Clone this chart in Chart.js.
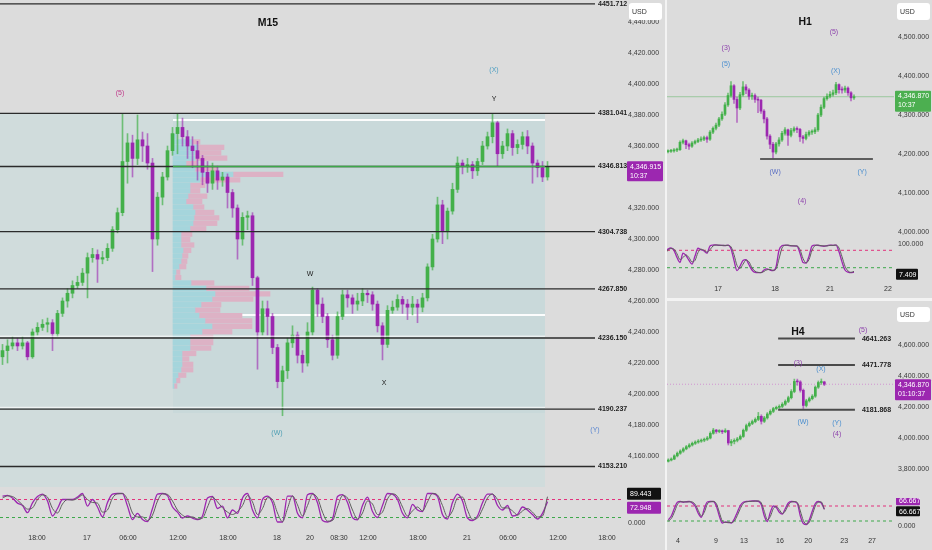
<!DOCTYPE html>
<html lang="en">
<head>
<meta charset="UTF-8">
<title>XAUUSD | M15 / H1 / H4</title>
<script src="https://cdn.jsdelivr.net/npm/chart.js"></script>
<style>
  body { margin: 0; width: 932px; height: 550px; overflow: hidden; background: #f3f3f3; }
  .pane { position: absolute; background: #dcdcdc; }
  canvas { position: absolute; }
</style>
</head>
<body>
<div class="pane" style="left:0;top:0;width:665px;height:550px"></div>
<div class="pane" style="left:667px;top:0;width:265px;height:298px"></div>
<div class="pane" style="left:667px;top:301px;width:265px;height:249px"></div>

<canvas id="m15Price" width="665" height="487" style="left:0;top:0"></canvas>
<canvas id="m15Stoch" width="665" height="63" style="left:0;top:487px"></canvas>
<canvas id="h1Price" width="265" height="240" style="left:667px;top:0"></canvas>
<canvas id="h1Stoch" width="265" height="57" style="left:667px;top:240px"></canvas>
<canvas id="h4Price" width="265" height="197" style="left:667px;top:301px"></canvas>
<canvas id="h4Stoch" width="265" height="52" style="left:667px;top:498px"></canvas>

<script>
// ---------- M15 ----------
const m15Open0 = 4224;
const m15Close = [4228,4231,4233,4231,4233,4224,4240,4243,4245,4246,
  4239,4252,4260,4265,4270,4272,4278,4288,4290,4287,
  4288,4294,4306,4317,4350,4362,4352,4364,4360,4349,
  4300,4327,4340,4357,4368,4372,4366,4360,4357,4352,
  4343,4336,4344,4338,4340,4330,4320,4300,4314,4315,
  4275,4240,4255,4250,4230,4208,4215,4233,4238,4225,
  4220,4240,4267,4258,4250,4235,4225,4250,4264,4262,
  4258,4260,4265,4264,4258,4244,4232,4254,4256,4261,
  4258,4256,4258,4256,4262,4282,4300,4322,4305,4318,
  4332,4349,4347,4348,4344,4350,4360,4366,4375,4355,
  4360,4368,4359,4361,4366,4360,4349,4346,4340,4346.9];
const m15High = [4232,4235,4237,4236,4237,4234,4242,4246,4248,4249,
  4248,4254,4262,4268,4273,4276,4281,4291,4294,4293,
  4292,4297,4308,4320,4381,4368,4367,4380,4369,4368,
  4352,4330,4343,4360,4372,4381,4378,4370,4366,4363,
  4354,4350,4349,4347,4343,4342,4332,4322,4317,4318,
  4317,4276,4260,4260,4252,4232,4218,4236,4244,4240,
  4228,4246,4269,4268,4262,4252,4238,4253,4267,4267,
  4264,4265,4268,4267,4266,4260,4246,4257,4260,4264,
  4263,4261,4263,4261,4265,4284,4303,4327,4325,4320,
  4336,4353,4351,4352,4350,4352,4363,4369,4381,4376,
  4363,4371,4370,4364,4369,4370,4362,4351,4350,4350];
const m15Low = [4219,4220,4229,4228,4229,4222,4223,4238,4241,4240,
  4228,4237,4250,4256,4262,4268,4270,4262,4285,4272,
  4284,4286,4292,4304,4315,4336,4340,4348,4350,4345,
  4279,4296,4322,4338,4354,4355,4360,4352,4346,4338,
  4335,4330,4332,4332,4334,4320,4314,4287,4296,4306,
  4270,4216,4238,4238,4226,4204,4186,4210,4230,4220,
  4214,4218,4238,4250,4246,4230,4222,4223,4248,4256,
  4252,4254,4257,4259,4254,4240,4222,4230,4252,4254,
  4252,4248,4251,4246,4253,4260,4280,4298,4297,4300,
  4316,4330,4342,4343,4339,4341,4348,4358,4362,4347,
  4352,4357,4354,4355,4358,4355,4336,4340,4337,4338];
const m15StochK = [91,94,85,68,60,36,69,90,98,75,
  25,50,80,80,80,88,100,58,80,55,
  22,70,98,100,100,58,13,34,13,6,
  50,98,100,93,55,38,18,25,18,13,
  25,85,90,50,58,19,45,34,85,100,
  45,19,80,91,69,5,5,91,91,34,
  19,96,100,69,10,5,15,90,96,70,
  20,12,60,88,40,20,60,100,98,80,
  34,19,64,45,40,100,100,90,30,15,
  70,98,75,18,10,25,69,98,98,60,
  45,60,25,30,55,45,30,15,34,72.948];
const m15StochD = [85,92,90,78,62,48,52,80,95,88,
  50,35,65,80,78,84,95,80,70,68,
  38,45,85,99,100,80,35,22,22,10,
  28,75,99,97,75,45,28,20,22,15,
  18,55,88,72,52,38,30,40,60,93,
  72,30,50,86,80,35,6,50,92,62,
  25,60,98,85,38,8,10,55,93,85,
  45,15,35,75,65,30,38,82,99,90,
  55,25,42,55,42,72,100,95,60,22,
  42,85,88,45,14,18,48,85,98,80,
  52,52,42,28,42,50,38,22,25,89.443];
const m15TimeLabels = ['18:00','17','06:00','12:00','18:00','18','20','08:30','12:00','18:00','21','06:00','12:00','18:00'];
const m15TimePos = [6.9,16.9,25.1,35.1,45.1,54.9,61.5,67.3,73.1,83.1,92.9,101.1,111.1,120.9];
const m15PriceTicks = [4160,4180,4200,4220,4240,4260,4280,4300,4320,4340,4360,4380,4400,4420,4440];
const m15Levels = [4451.712,4381.041,4346.813,4304.738,4267.850,4236.150,4190.237,4153.210];

// volume profile (anchored 17th 12:00 -> last bar)
const vpPrice = [4376,4372,4368,4364,4360,4356,4352,4348,4344,4340,4336,4332,4328,4324,4320,4316,
  4312,4308,4304,4300,4296,4292,4288,4284,4280,4276,4272,4268,4264,4260,4256,4252,
  4248,4244,4240,4236,4232,4228,4224,4220,4216,4212,4208,4204,4200,4196,4192];
const vpBuy = [3,19,25,22,22,13,22,60,27,17,17,15,13,20,22,21,20,17,8,8,8,10,9,8,6,3,2,18,33,42,39,28,
  22,26,32,39,29,17,17,17,9,9,9,8,5,3,1];
const vpSell = [0,8,26,26,32,11,22,50,40,15,10,19,16,11,19,25,24,16,11,9,13,8,6,6,7,4,6,23,43,55,41,20,
  25,43,47,40,30,23,23,21,14,7,11,12,8,4,3];
const vpValueArea = [4376.8, 4251.0];

// ---------- H1 ----------
const h1Open0 = 4204;
const h1Close = [4206,4207,4208,4210,4211,4230,4234,4224,4220,4228,
  4232,4236,4238,4242,4238,4256,4266,4274,4290,4302,
  4326,4350,4375,4340,4318,4352,4372,4364,4348,4350,
  4340,4338,4310,4290,4246,4225,4205,4226,4236,4253,
  4262,4248,4260,4265,4263,4244,4240,4250,4256,4257,
  4262,4300,4320,4342,4348,4353,4357,4378,4365,4364,
  4369,4357,4344,4346.87];
const h1High = [4210,4211,4212,4214,4215,4234,4238,4236,4228,4232,
  4236,4240,4244,4246,4246,4260,4270,4279,4294,4308,
  4332,4356,4386,4378,4346,4358,4386,4378,4368,4356,
  4354,4346,4340,4314,4294,4250,4230,4230,4242,4258,
  4268,4264,4266,4270,4270,4266,4248,4256,4260,4262,
  4268,4304,4326,4346,4354,4360,4364,4384,4380,4372,
  4374,4372,4360,4352];
const h1Low = [4200,4203,4204,4205,4206,4209,4226,4214,4212,4217,
  4225,4229,4232,4234,4230,4235,4252,4262,4270,4286,
  4298,4322,4346,4330,4281,4314,4348,4355,4340,4340,
  4332,4306,4304,4280,4238,4214,4190,4200,4220,4232,
  4248,4222,4244,4256,4255,4232,4228,4236,4246,4250,
  4252,4258,4296,4316,4338,4344,4348,4352,4356,4356,
  4358,4350,4336,4340];
const h1StochK = [76,84,88,80,55,38,70,62,45,32,
  60,87,82,78,70,95,98,99,97,97,
  96,98,85,45,10,25,45,48,30,12,
  4,3,3,12,16,12,10,22,80,96,
  98,97,95,95,94,70,38,36,60,95,
  98,97,95,94,96,98,97,98,75,40,
  12,5,3,4];
const h1StochD = [70,80,86,84,68,48,55,64,55,40,
  45,72,84,80,74,82,95,98,98,97,
  97,97,92,65,28,18,32,46,40,20,
  8,4,3,7,13,14,11,15,50,88,
  97,98,96,95,95,82,52,37,48,80,
  96,98,96,95,95,97,97,98,88,58,
  25,9,4,7.409];
const h1TimeLabels = ['17','18','21','22'];
const h1TimePos = [17.7,36.7,55,74.3];
const h1PriceTicks = [4000,4100,4200,4300,4400,4500];

// ---------- H4 ----------
const h4Open0 = 3850;
const h4Close = [3858,3864,3885,3902,3916,3930,3944,3955,3966,3974,
  3980,3986,3992,4000,4030,4051,4042,4046,4040,4048,
  3968,3978,3985,3994,4010,4050,4080,4094,4106,4120,
  4140,4108,4130,4155,4172,4190,4198,4204,4218,4236,
  4260,4300,4365,4362,4308,4210,4240,4254,4270,4328,
  4358,4362,4346.87];
const h4High = [3866,3872,3892,3910,3924,3938,3952,3964,3974,3982,
  3990,3994,4000,4010,4040,4062,4056,4054,4052,4060,
  4050,3990,3995,4004,4020,4058,4090,4104,4116,4130,
  4165,4150,4140,4164,4182,4198,4206,4214,4228,4246,
  4270,4312,4380,4380,4370,4316,4250,4264,4280,4336,
  4368,4381,4366];
const h4Low = [3845,3852,3860,3878,3895,3908,3924,3936,3948,3958,
  3966,3972,3976,3984,3994,4024,4030,4034,4028,4034,
  3955,3950,3962,3975,3988,4004,4042,4072,4086,4098,
  4112,4090,4100,4122,4148,4164,4182,4190,4196,4210,
  4228,4252,4292,4340,4296,4190,4200,4232,4246,4262,
  4320,4346,4338];
const h4StochK = [25,40,70,95,98,95,97,98,92,78,
  50,35,70,96,98,98,80,40,12,16,
  14,12,28,55,82,95,98,99,100,100,
  99,85,40,18,55,80,74,55,48,70,
  92,98,97,90,40,10,6,25,60,90,
  98,92,66.667];
const h4StochD = [20,30,55,85,97,97,96,97,96,86,
  62,40,55,88,97,98,90,55,20,14,
  15,14,20,42,70,90,97,98,99,100,
  100,92,58,25,38,70,78,65,50,60,
  84,96,98,94,60,22,8,15,45,80,
  95,96,66.667];
const h4TimeLabels = ['4','9','13','16','20','23','27'];
const h4TimePos = [3.2,15.9,25.2,37.2,46.6,58.6,67.9];
const h4PriceTicks = [3800,4000,4200,4400,4600,4800];
const h4Levels = [4641.263, 4471.778, 4181.868];

// ---------- drawing ----------
const GREEN = '#43b04a';
const PURPLE = '#9c27b0';
const FONT = "'Liberation Sans', Arial, sans-serif";
Chart.defaults.font.family = FONT;

function fmt3(v) {
  return v.toLocaleString('en-US', { minimumFractionDigits: 3, maximumFractionDigits: 3 });
}

function hline(price, x0, x1, color, width, order, dash) {
  return { type: 'line', data: [{ x: x0, y: price }, { x: x1, y: price }], borderColor: color,
    borderWidth: width, borderDash: dash || [], pointRadius: 0, order: order };
}

// texts, zones, level labels and axis boxes, all placed through the chart scales
function overlay(cfg) {
  return {
    id: 'overlay',
    beforeDatasetsDraw(chart) {
      const { ctx, chartArea, scales } = chart;
      (cfg.zones || []).forEach(z => {
        const x0 = scales.x.getPixelForValue(z.x0), x1 = scales.x.getPixelForValue(z.x1);
        const y0 = scales.y.getPixelForValue(z.top);
        const y1 = z.bottom == null ? chartArea.bottom : scales.y.getPixelForValue(z.bottom);
        ctx.fillStyle = z.color;
        ctx.fillRect(x0, y0, x1 - x0, y1 - y0);
      });
    },
    afterDatasetsDraw(chart) {
      const { ctx, scales } = chart;
      ctx.save();
      ctx.textBaseline = 'middle';
      (cfg.texts || []).forEach(t => {
        ctx.font = (t.bold ? 'bold ' : '') + (t.size || 7) + 'px ' + FONT;
        ctx.fillStyle = t.color || '#222';
        ctx.textAlign = 'center';
        ctx.fillText(t.t, scales.x.getPixelForValue(t.x), scales.y.getPixelForValue(t.y));
      });
      ctx.font = 'bold 7px ' + FONT;
      ctx.fillStyle = '#1e1e1e';
      ctx.textAlign = 'left';
      (cfg.levels || []).forEach(l => {
        ctx.fillText(l.toFixed(3), scales.x.getPixelForValue(cfg.levelEnd) + cfg.levelGap, scales.y.getPixelForValue(l));
      });
      ctx.restore();
    },
    afterDraw(chart) {
      const { ctx, chartArea, scales } = chart;
      ctx.save();
      ctx.textBaseline = 'middle';
      ctx.textAlign = 'left';
      ctx.font = '7px ' + FONT;
      (cfg.boxes || []).forEach(b => {
        const x = chartArea.right + b.xOff;
        let top;
        if (b.top != null) top = b.top;
        else top = scales.y.getPixelForValue(b.v) + b.dy - (b.t2 ? 5 : b.h / 2);
        ctx.fillStyle = b.bg;
        ctx.beginPath();
        ctx.roundRect(x, top, b.w, b.h, b.r || 1);
        ctx.fill();
        ctx.fillStyle = b.fg || '#fff';
        if (b.t2) {
          ctx.fillText(b.t, x + 3, top + 5.5);
          ctx.fillText(b.t2, x + 3, top + 14.5);
        } else {
          ctx.fillText(b.t, x + 3, top + b.h / 2 + 0.5);
        }
      });
      ctx.restore();
    }
  };
}

function priceChart(id, o) {
  const open = [o.open0].concat(o.close.slice(0, -1));
  const up = o.close.map((c, i) => c >= open[i]);
  const bodyCol = up.map(u => u ? GREEN : PURPLE);
  const wickCol = up.map(u => u ? 'rgba(67,176,74,0.7)' : 'rgba(156,39,176,0.6)');
  const datasets = [
    { type: 'bar', data: o.close.map((c, i) => ({ x: i, y: [o.low[i], o.high[i]] })),
      backgroundColor: wickCol, barThickness: 1, grouped: false, order: 6 },
    { type: 'bar', data: o.close.map((c, i) => ({ x: i, y: [open[i], c] })),
      backgroundColor: bodyCol, barThickness: o.body, grouped: false, minBarLength: 1, order: 5 }
  ].concat(o.extra || []);

  const scales = Object.assign({
    x: { type: 'linear', min: o.xMin, max: o.xMax, display: false, offset: false, bounds: 'data' },
    y: { type: 'linear', position: 'right', min: o.yMin, max: o.yMax, bounds: 'data',
      grid: { display: false, drawTicks: false }, border: { display: false },
      afterBuildTicks: s => { s.ticks = o.ticks.map(v => ({ value: v })); },
      afterFit: s => { s.width = o.axisW; s.paddingTop = 0; s.paddingBottom = 0; },
      ticks: { autoSkip: false, padding: o.pad, color: '#3a3a3a', font: { size: 7 }, callback: v => fmt3(v) } }
  }, o.scales || {});

  return new Chart(document.getElementById(id), {
    type: 'bar',
    data: { datasets },
    options: {
      responsive: false, animation: false, events: [],
      layout: { padding: 0 },
      plugins: { legend: { display: false }, tooltip: { enabled: false } },
      scales
    },
    plugins: [overlay(o.ov)]
  });
}

function stochChart(id, o) {
  const xy = a => a.map((v, i) => ({ x: i, y: v }));
  return new Chart(document.getElementById(id), {
    type: 'line',
    data: { datasets: [
      { data: xy(o.d), borderColor: '#5e5e5e', borderWidth: 1, pointRadius: 0, cubicInterpolationMode: 'monotone' },
      { data: xy(o.k), borderColor: PURPLE, borderWidth: 1.3, pointRadius: 0, cubicInterpolationMode: 'monotone' },
      hline(80, o.xMin, o.xMax, '#e2317c', 1, 0, [3, 3]),
      hline(20, o.xMin, o.xMax, '#3da84a', 1, 0, [3, 3])
    ] },
    options: {
      responsive: false, animation: false, events: [],
      layout: { padding: 0 },
      plugins: { legend: { display: false }, tooltip: { enabled: false } },
      scales: {
        x: { type: 'linear', min: o.xMin, max: o.xMax, bounds: 'data',
          grid: { display: false, drawTicks: false }, border: { display: false },
          afterBuildTicks: s => { s.ticks = o.tickPos.map(v => ({ value: v })); },
          afterFit: s => { s.height = o.axisH; s.paddingLeft = 0; s.paddingRight = 0; },
          ticks: { autoSkip: false, maxRotation: 0, padding: 5, color: '#333', font: { size: 7 },
            callback: (v, i) => o.tickLabels[i] } },
        y: { type: 'linear', position: 'right', min: o.yMin, max: o.yMax, bounds: 'data',
          grid: { display: false, drawTicks: false }, border: { display: false },
          afterBuildTicks: s => { s.ticks = o.yTicks.map(v => ({ value: v })); },
          afterFit: s => { s.width = o.axisW; s.paddingTop = 0; s.paddingBottom = 0; },
          ticks: { autoSkip: false, padding: o.pad, color: '#3a3a3a', font: { size: 7 }, callback: v => fmt3(v) } }
      }
    },
    plugins: [overlay(o.ov)]
  });
}

// ---------- M15 ----------
const M15X = [-0.5, 123.9];
const vpStart = 34.1, vpEnd = 108.5, m15LevelEnd = 118.5;
const m15Extra = [];
m15Levels.forEach(p => m15Extra.push(hline(p, -1, m15LevelEnd, '#2b2b2b', 1.4, 3)));
m15Extra.push(hline(4237.3, -1, vpEnd, 'rgba(255,255,255,0.9)', 1, 4));
m15Extra.push(hline(4191.4, -1, vpEnd, 'rgba(255,255,255,0.8)', 1, 4));
m15Extra.push(hline(4346.813, vpStart, vpEnd, '#3da84a', 1.4, 2));
vpValueArea.forEach(p => m15Extra.push(hline(p, vpStart, vpEnd, 'rgba(255,255,255,0.95)', 2, 9)));
m15Extra.push({ type: 'bar', indexAxis: 'y', xAxisID: 'xv', yAxisID: 'yv', grouped: false, barThickness: 4.6, order: 8,
  data: vpPrice.map((p, i) => ({ y: p, x: [0, vpBuy[i]] })), backgroundColor: '#a5d5dc' });
m15Extra.push({ type: 'bar', indexAxis: 'y', xAxisID: 'xv', yAxisID: 'yv', grouped: false, barThickness: 4.6, order: 8,
  data: vpPrice.map((p, i) => ({ y: p, x: [vpBuy[i], vpBuy[i] + vpSell[i]] })), backgroundColor: '#ddb2c5' });

priceChart('m15Price', {
  open0: m15Open0, close: m15Close, high: m15High, low: m15Low, body: 3,
  xMin: M15X[0], xMax: M15X[1], yMin: 4140, yMax: 4454.2, ticks: m15PriceTicks, axisW: 43, pad: 6,
  extra: m15Extra,
  scales: {
    xv: { type: 'linear', axis: 'x', min: -173, max: 449, display: false, offset: false, bounds: 'data' },
    yv: { type: 'linear', axis: 'y', min: 4140, max: 4454.2, display: false, bounds: 'data' }
  },
  ov: {
    zones: [
      { x0: -1, x1: vpEnd, top: 4381.041, bottom: null, color: '#d0dcdc' },
      { x0: vpStart, x1: vpEnd, top: 4381.041, bottom: 4187.7, color: '#c9d9da' }
    ],
    levels: m15Levels, levelEnd: m15LevelEnd, levelGap: 3,
    texts: [
      { t: 'M15', x: 53.1, y: 4439.4, bold: true, size: 10.5, color: '#111' },
      { t: '(5)', x: 23.5, y: 4394.2, color: '#c0398a' },
      { t: '(X)', x: 98.3, y: 4409, color: '#4f9fc2' },
      { t: 'Y', x: 98.3, y: 4390.3, color: '#222' },
      { t: 'W', x: 61.5, y: 4277.4, color: '#222' },
      { t: 'X', x: 76.3, y: 4207, color: '#222' },
      { t: '(W)', x: 54.9, y: 4174.8, color: '#4f9fb4' },
      { t: '(Y)', x: 118.5, y: 4176.8, color: '#5b86d0' }
    ],
    boxes: [
      { t: 'USD', top: 3, h: 17, xOff: 7, w: 33, bg: '#ffffff', fg: '#333', r: 3 },
      { t: '4,346.915', t2: '10:37', v: 4346.915, dy: 0, h: 20, xOff: 5, w: 36, bg: PURPLE }
    ]
  }
});

stochChart('m15Stoch', {
  k: m15StochK, d: m15StochD, xMin: M15X[0], xMax: M15X[1], yMin: -18.3, yMax: 121.7,
  tickPos: m15TimePos, tickLabels: m15TimeLabels, yTicks: [0], axisW: 43, axisH: 21, pad: 6,
  ov: { boxes: [
    { t: '89.443', v: 89.443, dy: -3, h: 12, xOff: 5, w: 34, bg: '#111' },
    { t: '72.948', v: 72.948, dy: 6, h: 12, xOff: 5, w: 34, bg: PURPLE }
  ] }
});

// ---------- H1 ----------
const H1X = [0.67, 76.33];
priceChart('h1Price', {
  open0: h1Open0, close: h1Close, high: h1High, low: h1Low, body: 2,
  xMin: H1X[0], xMax: H1X[1], yMin: 3979.5, yMax: 4594.9, ticks: h1PriceTicks, axisW: 38, pad: 4,
  extra: [
    hline(4346.87, H1X[0], H1X[1], 'rgba(76,175,80,0.45)', 1, 7),
    hline(4187, 31.7, 69.3, '#333', 1.5, 3)
  ],
  ov: {
    texts: [
      { t: 'H1', x: 46.7, y: 4538.5, bold: true, size: 10.5, color: '#111' },
      { t: '(3)', x: 20.3, y: 4471.8, color: '#8e44ad' },
      { t: '(5)', x: 20.3, y: 4430.8, color: '#4b8fcf' },
      { t: '(5)', x: 56.3, y: 4512.8, color: '#8e44ad' },
      { t: '(X)', x: 56.9, y: 4412.8, color: '#4b8fcf' },
      { t: '(W)', x: 36.7, y: 4153.8, color: '#5b6fc4' },
      { t: '(Y)', x: 65.7, y: 4153.8, color: '#4b8fcf' },
      { t: '(4)', x: 45.7, y: 4079.5, color: '#8e44ad' }
    ],
    boxes: [
      { t: 'USD', top: 3, h: 17, xOff: 3, w: 33, bg: '#ffffff', fg: '#333', r: 3 },
      { t: '4,346.870', t2: '10:37', v: 4346.87, dy: -1, h: 21, xOff: 1, w: 36, bg: '#4caf50' }
    ]
  }
});

stochChart('h1Stoch', {
  k: h1StochK, d: h1StochD, xMin: H1X[0], xMax: H1X[1], yMin: -22.4, yMax: 115.5,
  tickPos: h1TimePos, tickLabels: h1TimeLabels, yTicks: [100], axisW: 38, axisH: 17, pad: 4,
  ov: { boxes: [ { t: '7.409', v: 7.409, dy: 3, h: 11, xOff: 2, w: 22, bg: '#111' } ] }
});

// ---------- H4 ----------
const H4X = [-0.44, 75.22];
const h4LevelX = [36.6, 62.2];
priceChart('h4Price', {
  open0: h4Open0, close: h4Close, high: h4High, low: h4Low, body: 2,
  xMin: H4X[0], xMax: H4X[1], yMin: 3613, yMax: 4883.9, ticks: h4PriceTicks, axisW: 38, pad: 4,
  extra: [hline(4346.87, H4X[0], H4X[1], 'rgba(200,90,200,0.55)', 1, 7, [1, 2])]
    .concat(h4Levels.map(p => hline(p, h4LevelX[0], h4LevelX[1], '#4a4a4a', 2, 3))),
  ov: {
    levels: h4Levels, levelEnd: h4LevelX[1], levelGap: 7,
    texts: [
      { t: 'H4', x: 43.2, y: 4683.9, bold: true, size: 10.5, color: '#111' },
      { t: '(5)', x: 64.9, y: 4696.8, color: '#8e44ad' },
      { t: '(3)', x: 43.2, y: 4483.9, color: '#8e44ad' },
      { t: '(X)', x: 50.9, y: 4445.2, color: '#4b8fcf' },
      { t: '(W)', x: 44.9, y: 4103.2, color: '#4b8fcf' },
      { t: '(Y)', x: 56.2, y: 4096.8, color: '#4b8fcf' },
      { t: '(4)', x: 56.2, y: 4025.8, color: '#8e44ad' }
    ],
    boxes: [
      { t: 'USD', top: 6, h: 15, xOff: 3, w: 33, bg: '#ffffff', fg: '#333', r: 3 },
      { t: '4,346.870', t2: '01:10:37', v: 4346.87, dy: 0, h: 21, xOff: 1, w: 36, bg: PURPLE }
    ]
  }
});

stochChart('h4Stoch', {
  k: h4StochK, d: h4StochD, xMin: H4X[0], xMax: H4X[1], yMin: -24, yMax: 112,
  tickPos: h4TimePos, tickLabels: h4TimeLabels, yTicks: [0], axisW: 38, axisH: 18, pad: 4,
  ov: { boxes: [
    { t: '66.667', v: 66.667, dy: -9, h: 10, xOff: 2, w: 24, bg: PURPLE },
    { t: '66.667', v: 66.667, dy: 2, h: 10, xOff: 2, w: 24, bg: '#111' }
  ] }
});
</script>
</body>
</html>
